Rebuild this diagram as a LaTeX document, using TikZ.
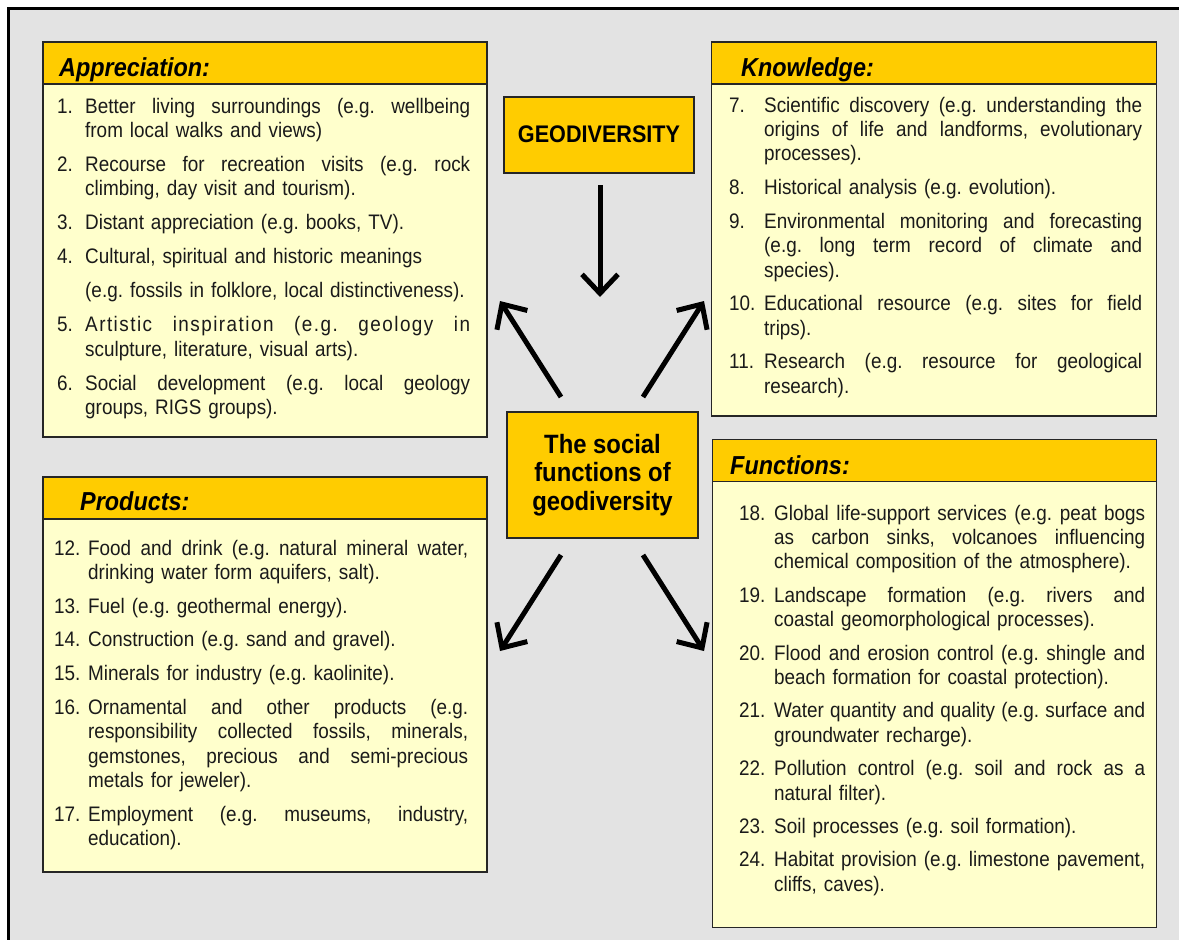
\documentclass[tikz,border=0pt]{standalone}
\usepackage{fontspec}
\setmainfont[FakeStretch=0.9]{Liberation Sans}
\usetikzlibrary{arrows.meta}

\definecolor{panelbg}{HTML}{E3E3E3}
\definecolor{gold}{HTML}{FFCC00}
\definecolor{cream}{HTML}{FFFFCC}
\definecolor{ink}{HTML}{1A1A1A}

% number column and text column of the lists
\newlength{\numw}
\newlength{\txtw}
\newlength{\itemgap}
% a justified line (spaces spread to fill the column) and a natural line
\newcommand{\jline}[2]{\leavevmode\hbox to \numw{#1\hfil}%
  \hbox to \txtw{\spaceskip=\fontdimen2\font plus 1fil\relax #2}}
\newcommand{\nline}[2]{\leavevmode\hbox to \numw{#1\hfil}#2}
\newcommand{\nx}{\\[\itemgap]}
\newcommand{\listcols}[3]{\setlength{\numw}{#1}\setlength{\txtw}{#2}\setlength{\itemgap}{#3}}

\tikzset{
  hdrbox/.style={draw=black!85, line width=1.6pt, fill=gold, anchor=north west,
    inner sep=0pt, outer sep=0pt},
  bodybox/.style={draw=black!85, line width=1.6pt, fill=cream, anchor=north west,
    inner sep=0pt, outer sep=0pt},
  hdrtext/.style={anchor=base west, inner sep=0pt, text=black,
    font=\fontsize{26}{30}\selectfont\bfseries\itshape},
  listtext/.style={anchor=base west, inner sep=0pt, align=left, text=ink,
    font=\fontsize{21}{24.4}\selectfont\frenchspacing, text width=#1},
  keybox/.style={draw=black!85, line width=1.6pt, fill=gold, inner sep=0pt,
    outer sep=0pt, text=black, align=center},
  arr/.style={line width=5pt, -{Straight Barb[length=19pt,width=36pt]}},
}

\begin{document}
\begin{tikzpicture}[x=1pt,y=-1pt]
\useasboundingbox (0,0) rectangle (1179,940);
\fill[white] (0,0) rectangle (1179,940);
\fill[panelbg] (8.5,8.5) rectangle (1179,940);
\draw[line width=3.6pt, line join=miter] (8.5,940) -- (8.5,8.5) -- (1179,8.5);

% ---- Appreciation ----
\node[bodybox, minimum width=444pt, minimum height=353pt] (apB) at (43,84) {};
\node[hdrbox, minimum width=444pt, minimum height=42pt] (apH) at (43,42) {};
\node[hdrtext] (apT) at (59,76) {Appreciation:};
\node[listtext=420pt] (apL) at (57,113) {\listcols{28pt}{385pt}{9.6pt}%
\jline{1.}{Better living surroundings (e.g. wellbeing}\\
\nline{}{from local walks and views)}\nx
\jline{2.}{Recourse for recreation visits (e.g. rock}\\
\nline{}{climbing, day visit and tourism).}\nx
\nline{3.}{Distant appreciation (e.g. books, TV).}\nx
\nline{4.}{Cultural, spiritual and historic meanings}\nx
\nline{}{(e.g. fossils in folklore, local distinctiveness).}\nx
\jline{5.}{\addfontfeature{LetterSpace=7}Artistic inspiration (e.g. geology in}\\
\nline{}{sculpture, literature, visual arts).}\nx
\jline{6.}{Social development (e.g. local geology}\\
\nline{}{groups, RIGS groups).}};

% ---- Knowledge ----
\node[bodybox, minimum width=445pt, minimum height=332pt] (knB) at (711.5,84) {};
\node[hdrbox, minimum width=445pt, minimum height=42pt] (knH) at (711.5,42) {};
\node[hdrtext] (knT) at (741,76.5) {Knowledge:};
\node[listtext=420pt] (knL) at (729,112) {\listcols{35pt}{378pt}{9.3pt}%
\jline{7.}{Scientific discovery (e.g. understanding the}\\
\jline{}{origins of life and landforms, evolutionary}\\
\nline{}{processes).}\nx
\nline{8.}{Historical analysis (e.g. evolution).}\nx
\jline{9.}{Environmental monitoring and forecasting}\\
\jline{}{(e.g. long term record of climate and}\\
\nline{}{species).}\nx
\jline{10.}{Educational resource (e.g. sites for field}\\
\nline{}{trips).}\nx
\jline{11.}{Research (e.g. resource for geological}\\
\nline{}{research).}};

% ---- Products ----
\node[bodybox, minimum width=444pt, minimum height=353pt] (prB) at (43,519) {};
\node[hdrbox, minimum width=444pt, minimum height=42pt] (prH) at (43,477) {};
\node[hdrtext] (prT) at (80,510.5) {Products:};
\node[listtext=420pt] (prL) at (54,555) {\listcols{34pt}{380pt}{9.3pt}%
\jline{12.}{Food and drink (e.g. natural mineral water,}\\
\nline{}{drinking water form aquifers, salt).}\nx
\nline{13.}{Fuel (e.g. geothermal energy).}\nx
\nline{14.}{Construction (e.g. sand and gravel).}\nx
\nline{15.}{Minerals for industry (e.g. kaolinite).}\nx
\jline{16.}{Ornamental and other products (e.g.}\\
\jline{}{responsibility collected fossils, minerals,}\\
\jline{}{gemstones, precious and semi-precious}\\
\nline{}{metals for jeweler).}\nx
\jline{17.}{Employment (e.g. museums, industry,}\\
\nline{}{education).}};

% ---- Functions ----
\node[bodybox, minimum width=444pt, minimum height=446pt] (fnB) at (712.5,481.5) {};
\node[hdrbox, minimum width=444pt, minimum height=42pt] (fnH) at (712.5,439.5) {};
\node[hdrtext] (fnT) at (730,474) {Functions:};
\node[listtext=412pt] (fnL) at (739,520) {\listcols{35pt}{371pt}{9pt}%
\jline{18.}{Global life-support services (e.g. peat bogs}\\
\jline{}{as carbon sinks, volcanoes influencing}\\
\nline{}{chemical composition of the atmosphere).}\nx
\jline{19.}{Landscape formation (e.g. rivers and}\\
\nline{}{coastal geomorphological processes).}\nx
\jline{20.}{Flood and erosion control (e.g. shingle and}\\
\nline{}{beach formation for coastal protection).}\nx
\jline{21.}{Water quantity and quality (e.g. surface and}\\
\nline{}{groundwater recharge).}\nx
\jline{22.}{Pollution control (e.g. soil and rock as a}\\
\nline{}{natural filter).}\nx
\nline{23.}{Soil processes (e.g. soil formation).}\nx
\jline{24.}{Habitat provision (e.g. limestone pavement,}\\
\nline{}{cliffs, caves).}};

% ---- central boxes ----
\node[keybox, minimum width=190pt, minimum height=76pt,
  font=\fontsize{24}{28}\selectfont\bfseries] (geo) at (599,134.7) {GEODIVERSITY};
\node[keybox, minimum width=191pt, minimum height=126pt,
  font=\fontsize{26.5}{28.5}\selectfont\bfseries] (soc) at (602.5,475)
  {The social\\functions of\\geodiversity};

% ---- arrows ----
\coordinate (geoOut) at (600,185);
\coordinate (socIn)  at (600,297);
\coordinate (nwFrom) at (561,397);
\coordinate (nwTo)   at (500,301);
\coordinate (neFrom) at (643,397);
\coordinate (neTo)   at (704,301);
\coordinate (swFrom) at (561,555);
\coordinate (swTo)   at (500,651);
\coordinate (seFrom) at (643,555);
\coordinate (seTo)   at (704,651);
\draw[arr] (geoOut) -- (socIn);
\draw[arr] (nwFrom) -- (nwTo);
\draw[arr] (neFrom) -- (neTo);
\draw[arr] (swFrom) -- (swTo);
\draw[arr] (seFrom) -- (seTo);
\end{tikzpicture}
\end{document}
